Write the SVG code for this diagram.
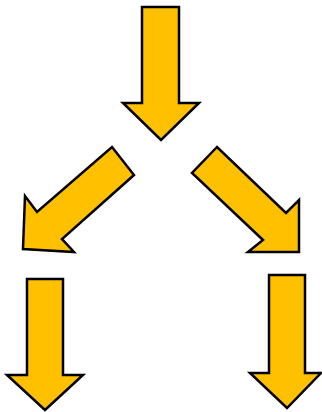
<svg xmlns="http://www.w3.org/2000/svg" width="322" height="412" viewBox="0 0 322 412">
<style>
.arrow{fill:#FFC000;stroke:#000;stroke-width:2.5;stroke-linejoin:miter}
</style>
<rect width="322" height="412" fill="#fff"/>
<g id="arrow-top"><polygon class="arrow" points="142,7 179,7 179,103 199,103 161,140 123,103 142,103"/></g>
<g id="arrow-left-diag"><polygon class="arrow" points="112,147 134,175 62,239 74,252 23,249 25,196 37,212"/></g>
<g id="arrow-right-diag"><polygon class="arrow" points="217,147 192,173 263,240 248,252 299,252 299,200 286,213"/></g>
<g id="arrow-bottom-left"><polygon class="arrow" points="27,279 63,279 63,375 83,375 45,410 7,375 27,375"/></g>
<g id="arrow-bottom-right"><polygon class="arrow" points="269,275 305,275 305,373 321,373 287,408 250,373 269,373"/></g>
<g id="connectors"/>
</svg>
